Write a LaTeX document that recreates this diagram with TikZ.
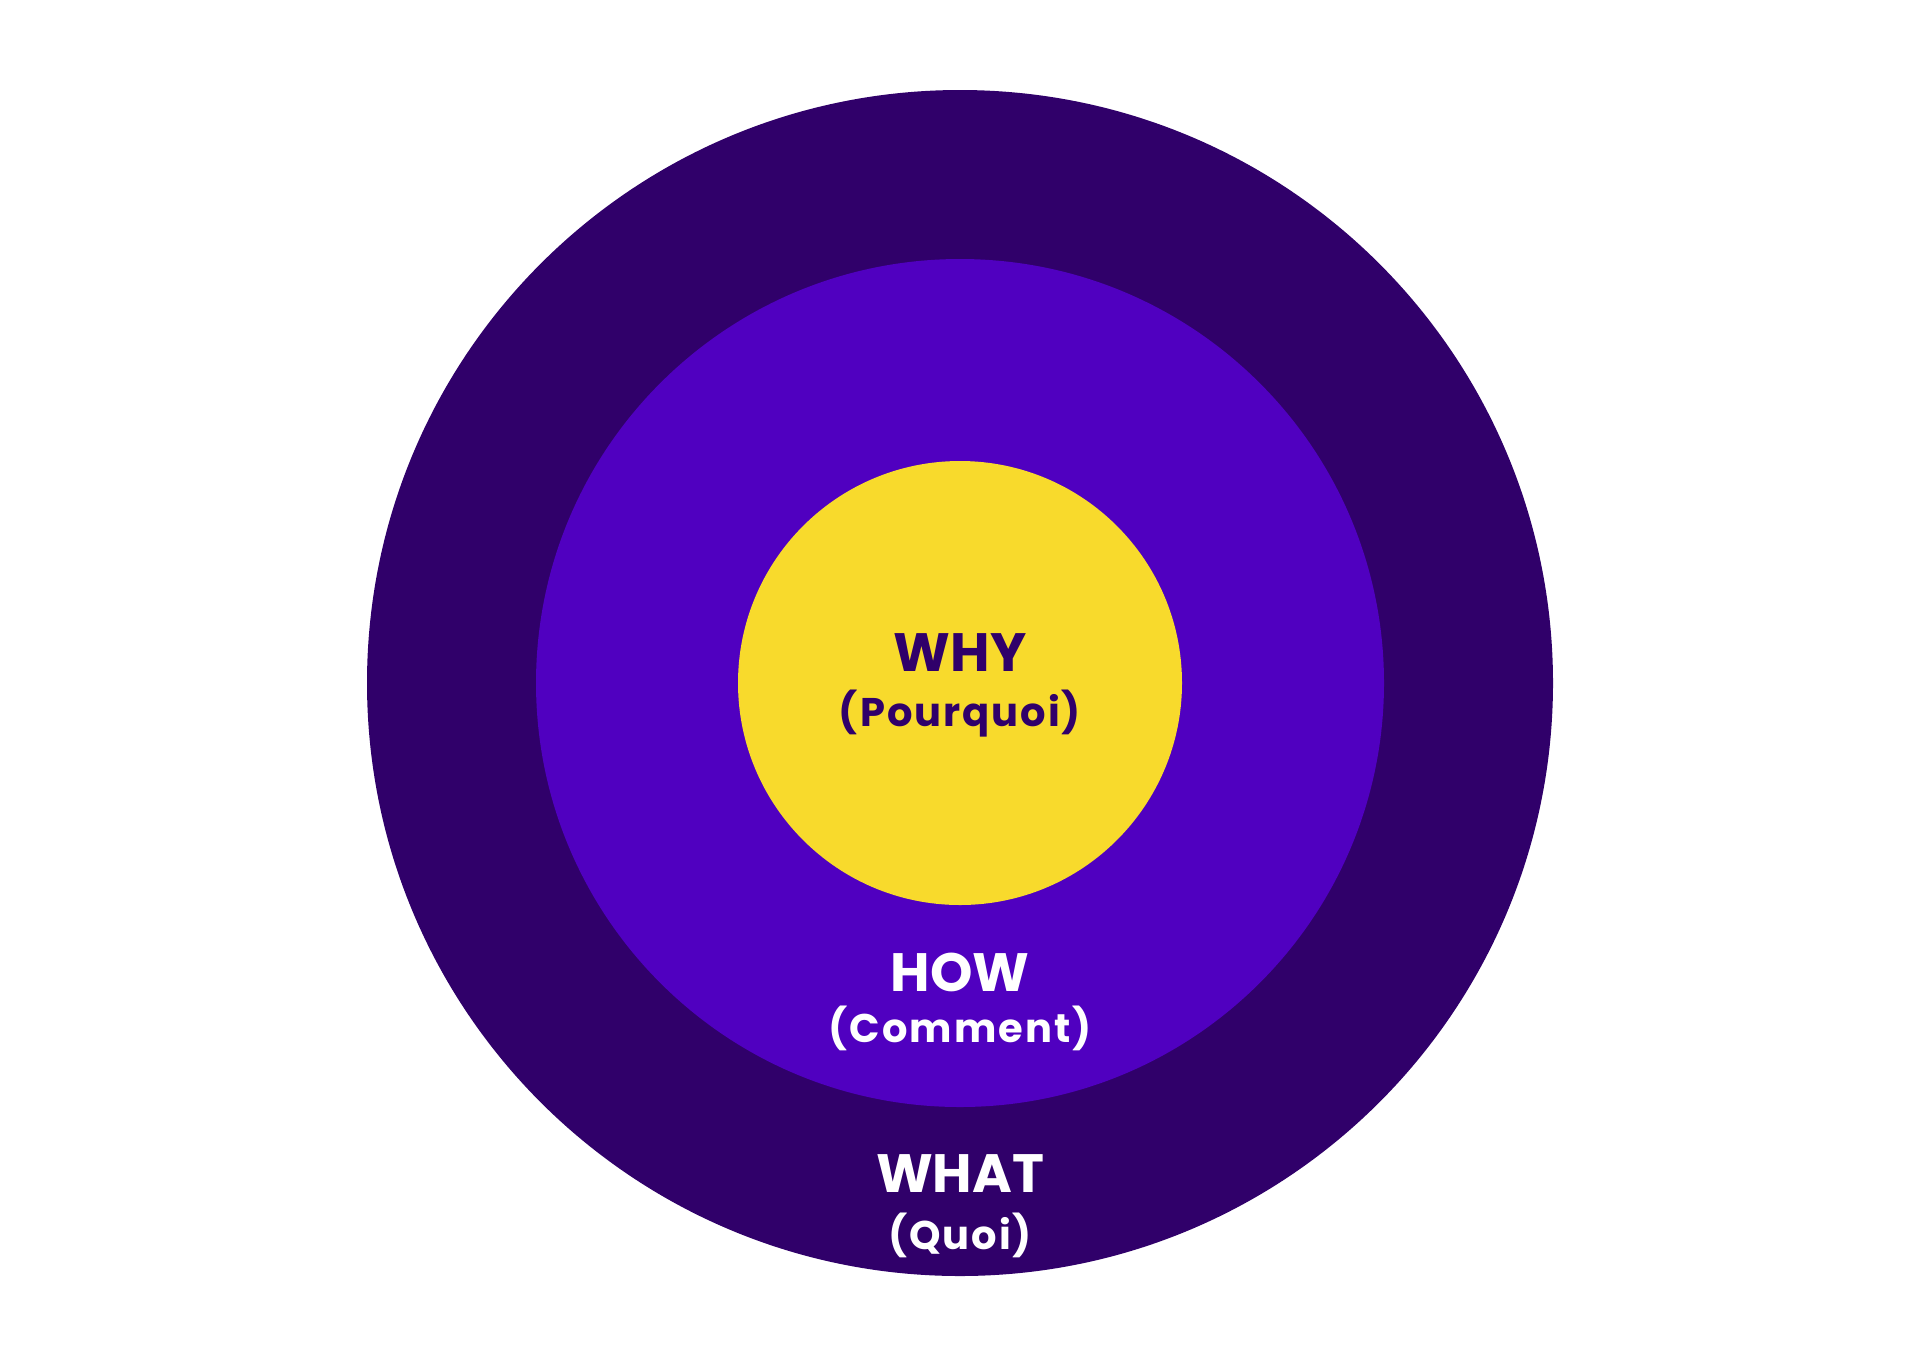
\documentclass[tikz,border=0pt]{standalone}
\usepackage{fontspec}
\setmainfont{Poppins}[UprightFont=* Bold, BoldFont=* Bold]
\definecolor{outerc}{HTML}{30006A}
\definecolor{midc}{HTML}{5000C0}
\definecolor{innerc}{HTML}{F8DA2C}
\definecolor{darktext}{HTML}{30006A}
\tikzset{
  ring/.style={draw=none},
  bigword/.style={font=\fontsize{27}{30}\selectfont, inner sep=0pt},
  smallword/.style={font=\fontsize{20}{24}\selectfont\addfontfeatures{LetterSpace=5}, inner sep=0pt},
}
\begin{document}
\begin{tikzpicture}[x=0.5pt,y=-0.5pt]
\useasboundingbox (0,0) rectangle (1920,1366);
\fill[white] (0,0) rectangle (1920,1366);
\coordinate (c) at (960,683);
\fill[ring, outerc] (c) circle[radius=593];
\fill[ring, midc] (c) circle[radius=424];
\fill[ring, innerc] (c) circle[radius=222];
\node[bigword, text=darktext] (why) at (960,653) {WHY};
\node[smallword, text=darktext] (pourquoi) at (960,714) {(Pourquoi)};
\node[bigword, text=white] (how) at (960,972) {HOW};
\node[smallword, text=white] (comment) at (960,1028) {(Comment)};
\node[bigword, text=white] (what) at (960,1174) {WHAT};
\node[smallword, text=white] (quoi) at (960,1235) {(Quoi)};
\end{tikzpicture}
\end{document}
